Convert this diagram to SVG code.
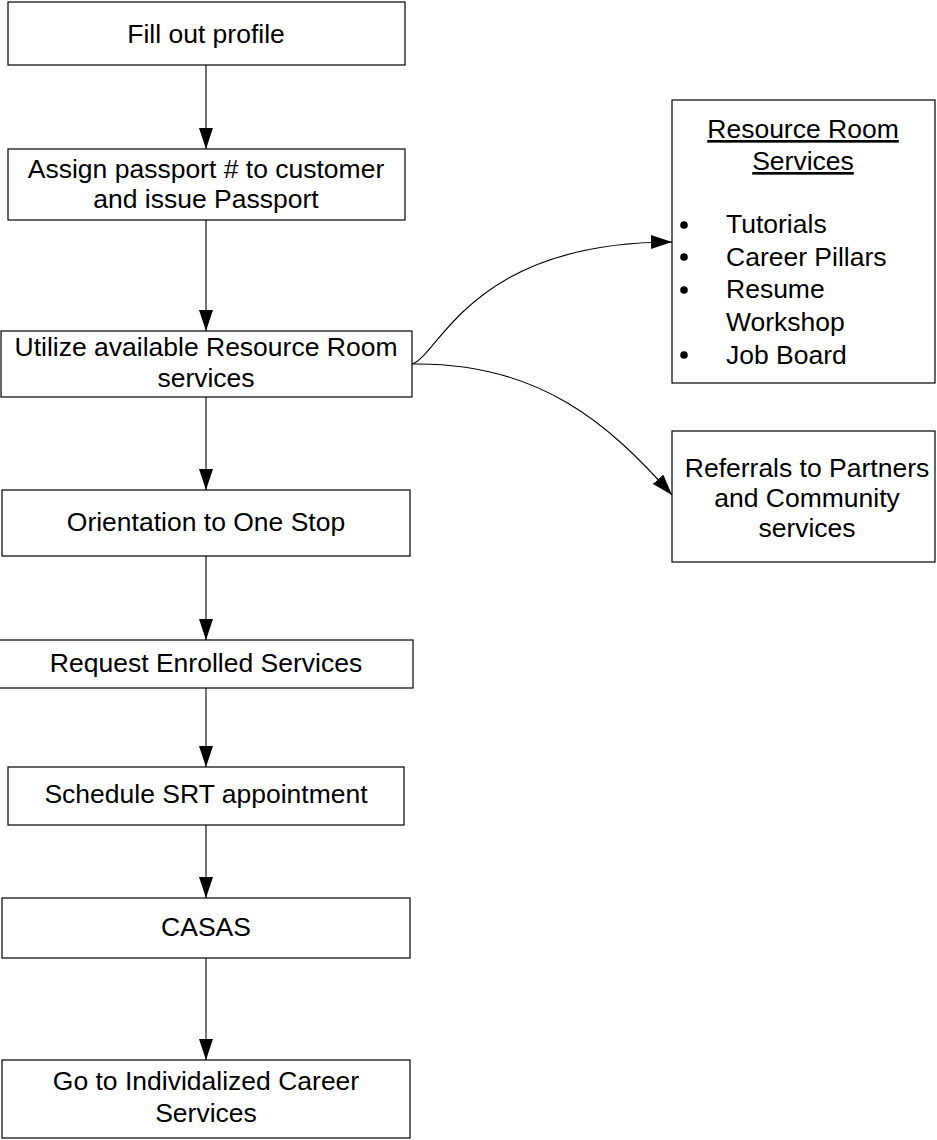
<svg xmlns="http://www.w3.org/2000/svg" width="937" height="1140" viewBox="0 0 937 1140">
<style>
.box{fill:#fff;stroke:#000;stroke-width:1.2}
.t{font-family:"Liberation Sans",Arial,sans-serif;font-size:26.5px;fill:#000;text-anchor:middle}
.l{font-family:"Liberation Sans",Arial,sans-serif;font-size:26.5px;fill:#000}
.c{fill:none;stroke:#000;stroke-width:1.1}
.u{text-decoration:underline}
</style>
<defs>
<marker id="ah" markerWidth="21" markerHeight="14" refX="21" refY="7" orient="auto" markerUnits="userSpaceOnUse">
<path d="M0,0 L21,7 L0,14 Z" fill="#000"/>
</marker>
</defs>
<rect width="937" height="1140" fill="#fff"/>
<g id="connectors">
<path class="c" d="M206,65 V149" marker-end="url(#ah)"/>
<path class="c" d="M206,220 V331" marker-end="url(#ah)"/>
<path class="c" d="M206,397 V490" marker-end="url(#ah)"/>
<path class="c" d="M206,556 V640" marker-end="url(#ah)"/>
<path class="c" d="M206,688 V767" marker-end="url(#ah)"/>
<path class="c" d="M206,825 V898" marker-end="url(#ah)"/>
<path class="c" d="M206,958 V1060" marker-end="url(#ah)"/>
<path class="c" d="M412,364 C440,355 470,242 672,242" marker-end="url(#ah)"/>
<path class="c" d="M412,364 C540,362 610,425 672,495" marker-end="url(#ah)"/>
</g>
<g id="n1"><rect class="box" x="8" y="2" width="397" height="63"/><text class="t" x="206" y="43">Fill out profile</text></g>
<g id="n2"><rect class="box" x="8" y="149" width="397" height="71"/><text class="t" x="206" y="178">Assign passport # to customer</text><text class="t" x="206" y="208">and issue Passport</text></g>
<g id="n3"><rect class="box" x="1" y="331" width="411" height="66"/><text class="t" x="206" y="356">Utilize available Resource Room</text><text class="t" x="206" y="387">services</text></g>
<g id="n4"><rect class="box" x="2" y="490" width="408" height="66"/><text class="t" x="206" y="531">Orientation to One Stop</text></g>
<g id="n5"><rect class="box" x="-1" y="640" width="414" height="48"/><text class="t" x="206" y="672">Request Enrolled Services</text></g>
<g id="n6"><rect class="box" x="8" y="767" width="396" height="58"/><text class="t" x="206" y="803">Schedule SRT appointment</text></g>
<g id="n7"><rect class="box" x="2" y="898" width="408" height="60"/><text class="t" x="206" y="936">CASAS</text></g>
<g id="n8"><rect class="box" x="2" y="1060" width="408" height="78"/><text class="t" x="206" y="1090">Go to Individalized Career</text><text class="t" x="206" y="1122">Services</text></g>
<g id="n9"><rect class="box" x="672" y="100" width="263" height="283"/>
<text class="t u" x="803" y="138">Resource Room</text>
<text class="t u" x="803" y="170">Services</text>
<circle cx="684" cy="225" r="3.8"/><text class="l" x="726" y="233">Tutorials</text>
<circle cx="684" cy="257" r="3.8"/><text class="l" x="726" y="266">Career Pillars</text>
<circle cx="684" cy="290" r="3.8"/><text class="l" x="726" y="298">Resume</text>
<text class="l" x="726" y="331">Workshop</text>
<circle cx="684" cy="355" r="3.8"/><text class="l" x="726" y="364">Job Board</text>
</g>
<g id="n10"><rect class="box" x="672" y="431" width="263" height="131"/><text class="t" x="807" y="477">Referrals to Partners</text><text class="t" x="807" y="507">and Community</text><text class="t" x="807" y="537">services</text></g>
</svg>
